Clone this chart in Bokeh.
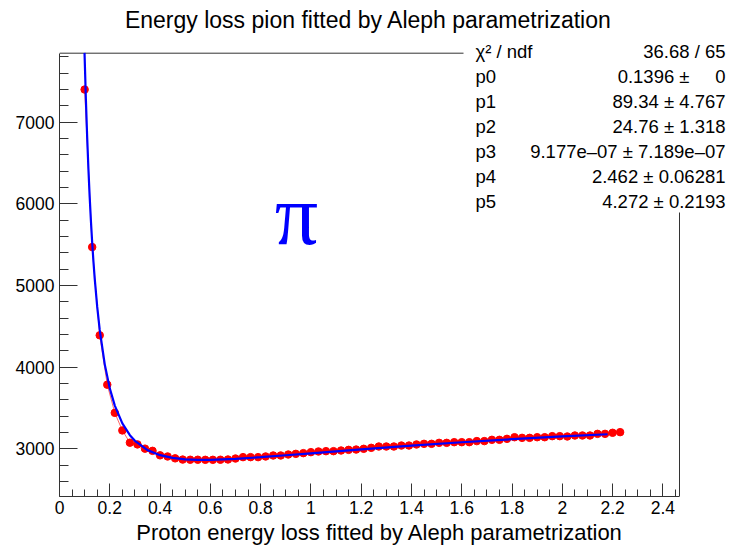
from bokeh.plotting import figure
from bokeh.models import Range1d, SingleIntervalTicker, CustomJSTickFormatter, Label
from bokeh.embed import file_html
from bokeh.resources import INLINE

# ---------------- data ----------------
momentum = [0.10, 0.13, 0.16, 0.19, 0.22, 0.25, 0.28, 0.31, 0.34, 0.37,
            0.40, 0.43, 0.46, 0.49, 0.52, 0.55, 0.58, 0.61, 0.64, 0.67,
            0.70, 0.73, 0.76, 0.79, 0.82, 0.85, 0.88, 0.91, 0.94, 0.97,
            1.00, 1.03, 1.06, 1.09, 1.12, 1.15, 1.18, 1.21, 1.24, 1.27,
            1.30, 1.33, 1.36, 1.39, 1.42, 1.45, 1.48, 1.51, 1.54, 1.57,
            1.60, 1.63, 1.66, 1.69, 1.72, 1.75, 1.78, 1.81, 1.84, 1.87,
            1.90, 1.93, 1.96, 1.99, 2.02, 2.05, 2.08, 2.11, 2.14, 2.17,
            2.20, 2.23]
dedx = [7400, 5470, 4390, 3785, 3440, 3225, 3075, 3054, 3002, 2975,
        2920, 2906, 2883, 2868, 2866, 2866, 2865, 2865, 2866, 2869,
        2881, 2898, 2898, 2898, 2906, 2918, 2918, 2930, 2938, 2947,
        2959, 2967, 2971, 2971, 2979, 2987, 2991, 3000, 3012, 3028,
        3028, 3028, 3040, 3040, 3053, 3061, 3061, 3073, 3073, 3081,
        3081, 3081, 3094, 3094, 3110, 3110, 3122, 3142, 3134, 3134,
        3142, 3142, 3155, 3155, 3151, 3163, 3163, 3163, 3183, 3183,
        3196, 3204]

fit_momentum = [0.0996, 0.100, 0.105, 0.110, 0.115, 0.120, 0.125, 0.130, 0.135, 0.140,
                0.150, 0.160, 0.180, 0.200, 0.220, 0.250, 0.280, 0.300, 0.350, 0.400,
                0.450, 0.500, 0.550, 0.600, 0.700, 0.800, 0.900, 1.000, 1.200, 1.400,
                1.600, 1.800, 2.000, 2.180]
fit_dedx = [7849, 7803, 7275, 6822, 6430, 6089, 5790, 5527, 5294, 5088,
            4738, 4456, 4034, 3740, 3529, 3311, 3167, 3098, 2984, 2922,
            2888, 2871, 2865, 2865, 2877, 2897, 2921, 2945, 2994, 3039,
            3080, 3118, 3151, 3178]

stat_names = ["χ² / ndf", "p0", "p1", "p2", "p3", "p4", "p5"]
stat_values = ["36.68 / 65", "0.1396 ±\u00a0\u00a0\u00a0\u00a0\u00a00", "89.34 ± 4.767",
               "24.76 ± 1.318", "9.177e–07 ± 7.189e–07", "2.462 ± 0.06281",
               "4.272 ± 0.2193"]

title_text = "Energy loss pion fitted by Aleph parametrization"
xaxis_title = "Proton energy loss fitted by Aleph parametrization"
particle_label = "π"

# ---------------- layout helpers (pixel -> data) ----------------
W, H = 730, 549
L, B = 59, 496
PXU = 251.4          # px per unit momentum
Y3000, PYU = 448.3, 0.08165


def xd(px):
    return (px - L) / PXU


def yd(py):
    return 3000 + (Y3000 - py) / PYU


X_FRAME_R = xd(679)
Y_FRAME_T = yd(52.7)
Y_FRAME_B = yd(B)

p = figure(width=W, height=H, output_backend="svg", toolbar_location=None,
           x_range=Range1d(0, xd(W)), y_range=Range1d(Y_FRAME_B, yd(0)),
           min_border_left=L, min_border_right=0, min_border_top=0,
           min_border_bottom=H - B)
p.outline_line_color = None
p.grid.visible = False
p.background_fill_color = "white"
p.border_fill_color = "white"

FONT = "Liberation Sans"
AX = "#333333"

xa = p.xaxis[0]
xa.ticker = SingleIntervalTicker(interval=0.2, num_minor_ticks=4)
xa.formatter = CustomJSTickFormatter(code="return String(Number(tick.toFixed(1)));")
xa.bounds = (0, X_FRAME_R)
xa.major_tick_in = 13
xa.major_tick_out = 0
xa.minor_tick_in = 7
xa.minor_tick_out = 0
xa.major_label_standoff = 4
xa.major_label_text_font = FONT
xa.major_label_text_font_size = "17.5px"
xa.major_label_text_color = "black"
xa.axis_line_color = AX
xa.major_tick_line_color = AX
xa.minor_tick_line_color = AX
# trailing no-break spaces shift the centred title a little to the left, as in the reference
xa.axis_label = xaxis_title + "\u00a0" * 5
xa.axis_label_standoff = 3
xa.axis_label_text_font = FONT
xa.axis_label_text_font_size = "22px"
xa.axis_label_text_font_style = "normal"
xa.axis_label_text_color = "black"

ya = p.yaxis[0]
ya.ticker = SingleIntervalTicker(interval=1000, num_minor_ticks=5)
ya.bounds = (Y_FRAME_B, Y_FRAME_T)
ya.major_tick_in = 18
ya.major_tick_out = 0
ya.minor_tick_in = 9
ya.minor_tick_out = 0
ya.major_label_standoff = 5
ya.major_label_text_font = FONT
ya.major_label_text_font_size = "17.5px"
ya.major_label_text_color = "black"
ya.axis_line_color = AX
ya.major_tick_line_color = AX
ya.minor_tick_line_color = AX

# frame: top edge up to the stats box, right edge below it
p.segment(x0=[0], y0=[Y_FRAME_T], x1=[xd(463)], y1=[Y_FRAME_T], line_color=AX, line_width=1)
p.segment(x0=[X_FRAME_R], y0=[Y_FRAME_B], x1=[X_FRAME_R], y1=[yd(212)], line_color=AX, line_width=1)

# data and fit
p.line(momentum, dedx, line_color="red", line_width=1, line_alpha=0.6)
p.scatter(momentum, dedx, marker="circle", size=7.5, fill_color="red", line_color="red")
p.line(fit_momentum, fit_dedx, line_color="blue", line_width=2.2)

# texts
p.add_layout(Label(x=xd(368), y=yd(19), text=title_text, text_align="center",
                   text_baseline="alphabetic", text_font=FONT, text_font_size="23px",
                   text_color="black"))
p.add_layout(Label(x=xd(296), y=yd(214), text=particle_label, text_align="center",
                   text_baseline="alphabetic", text_font="Liberation Serif",
                   text_font_size="86px", text_color="blue"))

for k, (nm, val) in enumerate(zip(stat_names, stat_values)):
    base = 50.7 + 25.1 * k
    p.add_layout(Label(x=xd(475), y=yd(base), text=nm, text_align="left",
                       text_baseline="alphabetic", text_font=FONT,
                       text_font_size="18.5px", text_color="black"))
    p.add_layout(Label(x=xd(725), y=yd(base), text=val, text_align="right",
                       text_baseline="alphabetic", text_font=FONT,
                       text_font_size="18.5px", text_color="black"))

open("out.html", "w").write(file_html(p, INLINE))
